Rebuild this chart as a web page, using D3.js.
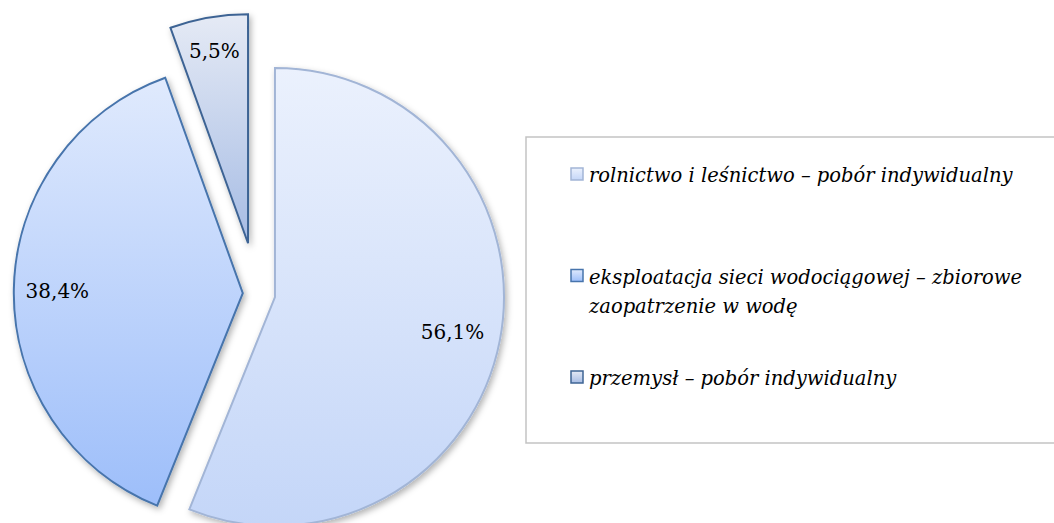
<!DOCTYPE html>
<html>
<head>
<meta charset="utf-8">
<script src="https://cdn.jsdelivr.net/npm/d3@7"></script>
<style>
  html, body { margin: 0; padding: 0; background: #fff; }
  svg { display: block; }
</style>
</head>
<body>
<div id="pie-chart"></div>
<script>
// data
const categories = [
  "rolnictwo i leśnictwo – pobór indywidualny",
  "eksploatacja sieci wodociągowej – zbiorowe zaopatrzenie w wodę",
  "przemysł – pobór indywidualny"
];
const values = [56.1, 38.4, 5.5];
const valueLabels = ["56,1%", "38,4%", "5,5%"];

function drawPieChart() {
  const width = 1054;
  const height = 523;
  const cx = 256.8, cy = 293.5;
  const radius = 229;
  const explode = [18.5, 14, 51];        // px each slice is pulled out
  const labelPos = [0.79, 0.81, 0.855];  // label radius as fraction of radius
  const font = "'DejaVu Serif', 'Liberation Serif', serif";

  const fills = [["#ebf1fd", "#c4d6f8"], ["#e0eafd", "#9dbefa"], ["#e5eaf5", "#a6bce4"]];
  const strokes = ["#a2b5d6", "#4774ac", "#3e6494"];

  const data = categories.map((c, i) => ({ name: c, value: values[i], label: valueLabels[i], i }));

  const pie = d3.pie().sort(null).value(d => d.value);
  const arcs = pie(data);
  const arc = d3.arc().innerRadius(0).outerRadius(radius);

  const svg = d3.create("svg").attr("width", width).attr("height", height);
  d3.select("#pie-chart").node().appendChild(svg.node());
  const defs = svg.append("defs");

  const shadow = defs.append("filter").attr("id", "shadow")
    .attr("x", "-20%").attr("y", "-20%").attr("width", "140%").attr("height", "140%");
  shadow.append("feDropShadow")
    .attr("dx", 2).attr("dy", 3).attr("stdDeviation", 3)
    .attr("flood-color", "#000").attr("flood-opacity", 0.3);

  fills.forEach((f, i) => {
    const g = defs.append("linearGradient").attr("id", "grad" + i)
      .attr("x1", 0).attr("y1", 0).attr("x2", 0).attr("y2", 1);
    g.append("stop").attr("offset", "0%").attr("stop-color", f[0]);
    g.append("stop").attr("offset", "100%").attr("stop-color", f[1]);
  });

  const offset = d => {
    const a = (d.startAngle + d.endAngle) / 2;
    const e = explode[d.data.i];
    return [cx + e * Math.sin(a), cy - e * Math.cos(a)];
  };

  // slices
  svg.append("g")
    .selectAll("path")
    .data(arcs)
    .join("path")
    .attr("transform", d => `translate(${offset(d)})`)
    .attr("d", arc)
    .attr("fill", d => `url(#grad${d.data.i})`)
    .attr("stroke", d => strokes[d.data.i])
    .attr("stroke-width", 2)
    .attr("filter", "url(#shadow)");

  // value labels
  svg.append("g")
    .attr("font-family", font)
    .attr("font-size", 20)
    .attr("fill", "#000")
    .attr("text-anchor", "middle")
    .selectAll("text")
    .data(arcs)
    .join("text")
    .attr("transform", d => {
      const [ox, oy] = offset(d);
      const a = (d.startAngle + d.endAngle) / 2;
      const r = radius * labelPos[d.data.i];
      return `translate(${ox + r * Math.sin(a)},${oy - r * Math.cos(a)})`;
    })
    .attr("dy", "0.4em")
    .text(d => d.data.label);

  // legend
  const legend = svg.append("g");
  legend.append("rect")
    .attr("x", 526).attr("y", 137)
    .attr("width", 540).attr("height", 306)
    .attr("fill", "#fff")
    .attr("stroke", "#c3c3c3")
    .attr("stroke-width", 1.5);

  const textX = 589, maxWidth = 440, lineH = 29, step = 101.5;
  data.forEach((d, i) => {
    const baseline = 182 + i * step;
    const item = legend.append("g");
    item.append("rect")
      .attr("x", 571).attr("y", baseline - 14)
      .attr("width", 12).attr("height", 12)
      .attr("fill", `url(#grad${i})`)
      .attr("stroke", strokes[i])
      .attr("stroke-width", 1.5);
    const text = item.append("text")
      .attr("font-family", font)
      .attr("font-style", "italic")
      .attr("font-size", 19.5)
      .attr("fill", "#000")
      .attr("x", textX).attr("y", baseline);
    // crude word wrap
    const words = d.name.split(" ");
    let line = [];
    let lines = 1;
    let tspan = text.append("tspan").attr("x", textX).attr("y", baseline);
    words.forEach(w => {
      line.push(w);
      tspan.text(line.join(" "));
      if (tspan.node().getComputedTextLength() > maxWidth && line.length > 1) {
        line.pop();
        tspan.text(line.join(" "));
        line = [w];
        tspan = text.append("tspan").attr("x", textX)
          .attr("y", baseline + lines * lineH).text(w);
        lines++;
      }
    });
  });
}

drawPieChart();
</script>
</body>
</html>
